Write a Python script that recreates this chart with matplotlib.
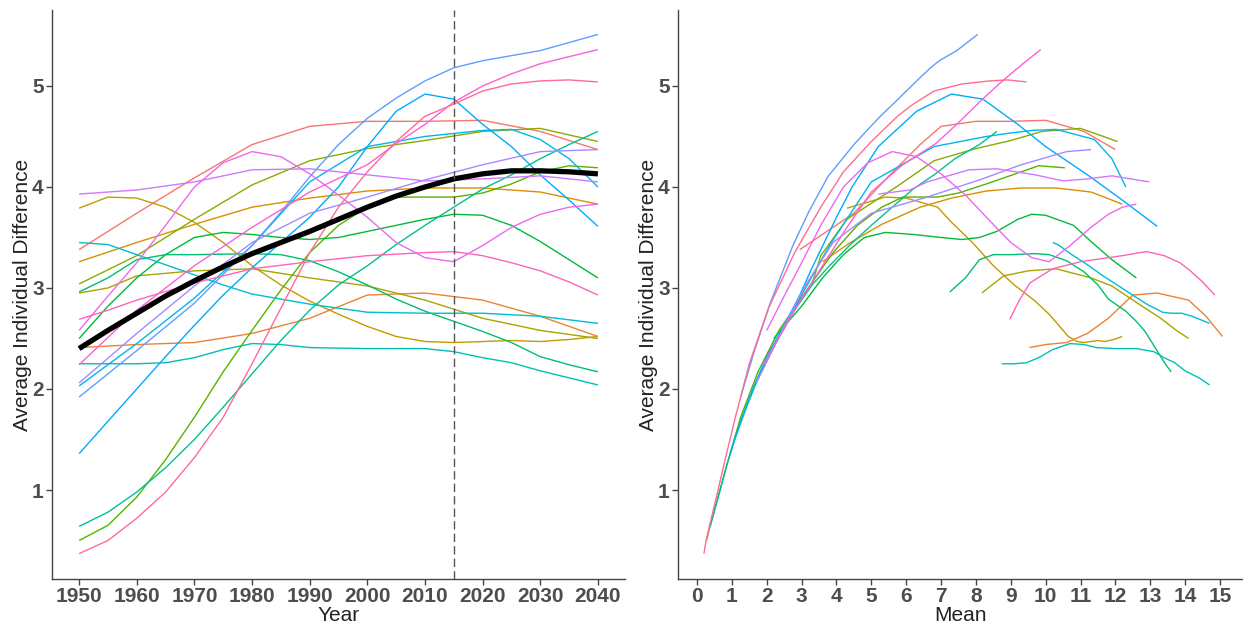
import numpy as np
import matplotlib
matplotlib.use("Agg")
import matplotlib.pyplot as plt

plt.rcParams['font.family'] = ['Liberation Sans', 'DejaVu Sans']

# ---- data ----
year10 = [1950, 1960, 1970, 1980, 1990, 2000, 2010, 2020, 2030, 2040]
year5 = [1950, 1955, 1960, 1965, 1970, 1975, 1980, 1985, 1990, 1995,
         2000, 2005, 2010, 2015, 2020, 2025, 2030, 2035, 2040]

salmon_val = [3.38, 3.74, 4.09, 4.42, 4.60, 4.65, 4.65, 4.66, 4.55, 4.37]
salmon_mean = [2.95, 4.5, 5.45, 6.4, 7.0, 8.0, 9.0, 10.0, 11.1, 12.0]

orange2_val = [2.41, 2.44, 2.46, 2.55, 2.70, 2.93, 2.95, 2.88, 2.72, 2.52]
orange2_mean = [9.54, 10.0, 10.6, 11.2, 11.8, 12.5, 13.2, 14.1, 14.6, 15.07]

orange_val = [3.26, 3.45, 3.63, 3.80, 3.89, 3.96, 3.99, 3.99, 3.95, 3.83]
orange_mean = [3.6, 4.4, 5.3, 6.4, 7.3, 8.3, 9.3, 10.3, 11.3, 12.2]

golden_val = [3.79, 3.90, 3.89, 3.80, 3.65, 3.45, 3.22, 3.03, 2.87, 2.74,
              2.62, 2.52, 2.47, 2.46, 2.47, 2.48, 2.47, 2.49, 2.52]
golden_mean = [4.3, 5.4, 6.0, 6.9, 7.3, 7.9, 8.5, 9.1, 9.7, 10.1,
               10.4, 10.65, 10.9, 11.1, 11.3, 11.5, 11.7, 11.95, 12.2]

olivegold_year = [1950, 1955, 1960, 1970, 1980, 1990, 2000, 2010, 2020, 2030, 2040]
olivegold_val = [2.95, 3.00, 3.12, 3.17, 3.19, 3.10, 3.02, 2.88, 2.70, 2.58, 2.50]
olivegold_mean = [8.17, 8.35, 8.8, 9.5, 10.3, 11.3, 11.9, 12.5, 13.3, 13.75, 14.1]

olive_val = [3.04, 3.32, 3.68, 4.02, 4.26, 4.38, 4.46, 4.55, 4.58, 4.45]
olive_mean = [3.3, 3.55, 4.3, 5.8, 6.8, 8.0, 9.0, 9.9, 11.0, 12.06]

green_low_val = [0.50, 0.65, 0.93, 1.30, 1.72, 2.17, 2.58, 2.98, 3.35, 3.62,
                 3.80, 3.90, 3.90, 3.90, 3.94, 4.03, 4.15, 4.21, 4.19]
green_low_mean = [0.27, 0.38, 0.6, 0.9, 1.25, 1.75, 2.35, 3.15, 3.9, 4.6,
                  5.3, 5.9, 6.4, 6.9, 7.5, 8.3, 9.3, 9.8, 10.55]

green_val = [2.50, 2.82, 3.10, 3.33, 3.50, 3.55, 3.53, 3.50, 3.48, 3.50,
             3.56, 3.62, 3.68, 3.73, 3.72, 3.62, 3.46, 3.28, 3.10]
green_mean = [2.2, 3.0, 3.6, 4.2, 4.8, 5.4, 6.2, 7.0, 7.6, 8.1,
              8.6, 8.9, 9.2, 9.6, 10.0, 10.8, 11.3, 11.9, 12.6]

gteal_year = [1950, 1955, 1960, 1965, 1970, 1980, 1985, 1990, 1995, 2000,
              2005, 2010, 2015, 2020, 2025, 2030, 2035, 2040]
gteal_val = [2.96, 3.10, 3.28, 3.33, 3.33, 3.34, 3.33, 3.27, 3.16, 3.03,
             2.89, 2.77, 2.67, 2.57, 2.46, 2.32, 2.24, 2.17]
gteal_mean = [7.25, 7.7, 8.1, 8.5, 9.0, 9.7, 10.1, 10.6, 11.1, 11.5,
              11.8, 12.3, 12.6, 12.85, 13.05, 13.3, 13.45, 13.6]

tealrise_val = [0.64, 0.78, 0.98, 1.22, 1.50, 1.82, 2.15, 2.48, 2.78, 3.03,
                3.22, 3.43, 3.62, 3.80, 3.98, 4.12, 4.28, 4.42, 4.55]
tealrise_mean = [0.38, 0.49, 0.65, 0.83, 1.08, 1.42, 1.8, 2.3, 2.8, 3.3,
                 3.8, 4.4, 5.0, 5.6, 6.2, 6.8, 7.4, 8.1, 8.6]

teal_year = [1950, 1960, 1965, 1970, 1975, 1980, 1985, 1990, 2000, 2010,
             2015, 2020, 2025, 2030, 2035, 2040]
teal_val = [2.25, 2.25, 2.26, 2.31, 2.39, 2.45, 2.44, 2.41, 2.40, 2.40,
            2.37, 2.31, 2.26, 2.18, 2.11, 2.04]
teal_mean = [8.74, 9.1, 9.45, 9.8, 10.2, 10.7, 11.1, 11.45, 12.0, 12.6,
             13.1, 13.4, 13.7, 14.0, 14.4, 14.7]

cyan_year = [1950, 1955, 1960, 1965, 1970, 1975, 1980, 1990, 2000, 2010, 2020, 2030, 2040]
cyan_val = [3.45, 3.43, 3.33, 3.23, 3.13, 3.03, 2.94, 2.84, 2.76, 2.75, 2.75, 2.72, 2.65]
cyan_mean = [10.2, 10.35, 10.75, 11.2, 11.6, 12.05, 12.45, 12.9, 13.35, 13.6, 13.9, 14.2, 14.7]

ltblue_year = [1950, 1960, 1970, 1980, 1990, 2000, 2010, 2015, 2020, 2025, 2030, 2035, 2040]
ltblue_val = [2.03, 2.45, 2.90, 3.42, 4.05, 4.40, 4.50, 4.53, 4.56, 4.57, 4.47, 4.28, 4.00]
ltblue_mean = [1.65, 2.25, 2.95, 3.8, 5.0, 6.8, 8.3, 8.9, 9.6, 10.3, 11.4, 11.9, 12.3]

bluepeak_val = [1.36, 1.68, 2.00, 2.32, 2.63, 2.93, 3.20, 3.45, 3.70, 4.00,
                4.40, 4.75, 4.92, 4.87, 4.62, 4.40, 4.12, 3.87, 3.61]
bluepeak_mean = [0.95, 1.25, 1.6, 2.0, 2.5, 2.95, 3.3, 3.65, 4.0, 4.45,
                 5.2, 6.3, 7.3, 8.2, 9.2, 10.0, 11.2, 12.2, 13.2]

topblue_year = [1950, 1960, 1970, 1980, 1985, 1990, 1995, 2000, 2005, 2010, 2015, 2020, 2030, 2040]
topblue_val = [1.92, 2.38, 2.85, 3.42, 3.75, 4.10, 4.42, 4.68, 4.88, 5.05, 5.18, 5.25, 5.35, 5.51]
topblue_mean = [1.25, 1.65, 2.1, 2.75, 3.2, 3.75, 4.5, 5.2, 5.8, 6.3, 6.7, 6.95, 7.45, 8.05]

lavender_val = [2.06, 2.55, 3.02, 3.45, 3.74, 3.90, 4.07, 4.22, 4.35, 4.37]
lavender_mean = [1.7, 2.4, 3.1, 3.9, 5.0, 6.6, 8.1, 9.3, 10.6, 11.3]

purple_val = [3.93, 3.97, 4.05, 4.17, 4.18, 4.12, 4.06, 4.08, 4.11, 4.05]
purple_mean = [5.2, 6.1, 6.6, 7.8, 8.6, 9.7, 10.5, 11.2, 11.9, 12.98]

magenta_val = [2.58, 2.92, 3.25, 3.62, 4.00, 4.24, 4.35, 4.30, 4.13, 3.92,
               3.70, 3.45, 3.30, 3.26, 3.42, 3.60, 3.73, 3.80, 3.83]
magenta_mean = [2.0, 2.5, 3.0, 3.55, 4.2, 4.9, 5.6, 6.3, 7.0, 7.7,
                8.3, 9.0, 9.6, 10.1, 10.7, 11.3, 11.8, 12.2, 12.6]

pink_year = [1950, 1960, 1970, 1980, 1990, 2000, 2005, 2010, 2015, 2020, 2025, 2030, 2035, 2040]
pink_val = [2.24, 2.78, 3.22, 3.60, 3.95, 4.22, 4.43, 4.62, 4.84, 5.00, 5.12, 5.22, 5.29, 5.36]
pink_mean = [1.9, 2.8, 3.6, 4.3, 5.0, 5.9, 6.85, 7.45, 8.1, 8.6, 9.0, 9.35, 9.6, 9.86]

pinkflat_year = [1950, 1955, 1960, 1970, 1980, 1990, 2000, 2010, 2015, 2020, 2025, 2030, 2035, 2040]
pinkflat_val = [2.69, 2.78, 2.88, 3.05, 3.19, 3.26, 3.32, 3.35, 3.36, 3.32, 3.25, 3.17, 3.06, 2.93]
pinkflat_mean = [8.97, 9.1, 9.25, 9.55, 10.2, 11.0, 12.2, 12.7, 12.9, 13.4, 13.85, 14.15, 14.5, 14.85]

pinkred_val = [0.37, 0.50, 0.72, 0.98, 1.32, 1.72, 2.25, 2.80, 3.35, 3.80,
               4.15, 4.45, 4.70, 4.82, 4.95, 5.02, 5.05, 5.06, 5.04]
pinkred_mean = [0.2, 0.26, 0.41, 0.59, 0.82, 1.1, 1.5, 2.05, 2.8, 3.55,
                4.2, 5.0, 5.75, 6.2, 6.8, 7.6, 8.4, 8.9, 9.45]

avg_val = [2.40, 2.58, 2.75, 2.92, 3.07, 3.21, 3.34, 3.45, 3.56, 3.68,
           3.80, 3.91, 4.00, 4.08, 4.13, 4.16, 4.16, 4.15, 4.13]

# (years, values, means) in ggplot colour order
series = [
    (year10, salmon_val, salmon_mean),
    (year10, orange2_val, orange2_mean),
    (year10, orange_val, orange_mean),
    (year5, golden_val, golden_mean),
    (olivegold_year, olivegold_val, olivegold_mean),
    (year10, olive_val, olive_mean),
    (year5, green_low_val, green_low_mean),
    (year5, green_val, green_mean),
    (gteal_year, gteal_val, gteal_mean),
    (year5, tealrise_val, tealrise_mean),
    (teal_year, teal_val, teal_mean),
    (cyan_year, cyan_val, cyan_mean),
    (ltblue_year, ltblue_val, ltblue_mean),
    (year5, bluepeak_val, bluepeak_mean),
    (topblue_year, topblue_val, topblue_mean),
    (year10, lavender_val, lavender_mean),
    (year10, purple_val, purple_mean),
    (year5, magenta_val, magenta_mean),
    (pink_year, pink_val, pink_mean),
    (pinkflat_year, pinkflat_val, pinkflat_mean),
    (year5, pinkred_val, pinkred_mean),
]


def hue_color(h, l=65.0, c=100.0):
    # ggplot2 style hcl colour
    h = np.deg2rad(h)
    u, v = c * np.cos(h), c * np.sin(h)
    Xn, Yn, Zn = 95.047, 100.0, 108.883
    Y = Yn * ((l + 16) / 116) ** 3
    den = Xn + 15 * Yn + 3 * Zn
    up = u / (13 * l) + 4 * Xn / den
    vp = v / (13 * l) + 9 * Yn / den
    X = Y * 9 * up / (4 * vp)
    Z = Y * (12 - 3 * up - 20 * vp) / (4 * vp)
    M = np.array([[3.2404542, -1.5371385, -0.4985314],
                  [-0.9692660, 1.8760108, 0.0415560],
                  [0.0556434, -0.2040259, 1.0572252]])
    rgb = np.clip(M @ (np.array([X, Y, Z]) / 100), 0, None)
    rgb = np.where(rgb <= 0.0031308, 12.92 * rgb, 1.055 * rgb ** (1 / 2.4) - 0.055)
    return tuple(np.clip(rgb, 0, 1))


n = len(series)
hues = np.linspace(15, 375, n + 1)[:-1]
colors = [hue_color(h) for h in hues]

fig = plt.figure(figsize=(12.43, 6.25), dpi=100)
ax1 = fig.add_axes([52 / 1243, 46 / 625, 573 / 1243, 569 / 625])
ax2 = fig.add_axes([678 / 1243, 46 / 625, 565 / 1243, 569 / 625])

for (yrs, vals, means), col in zip(series, colors):
    ax1.plot(yrs, vals, color=col, lw=1.0, solid_capstyle='butt')
    ax2.plot(means, vals, color=col, lw=1.0, solid_capstyle='butt')

ax1.plot(year5, avg_val, color='black', lw=3.8, solid_capstyle='butt', zorder=5)
ax1.axvline(2015, color='#555555', lw=1.0, ls=(0, (6, 3)), zorder=6)

ax1.set_xlim(1945.3, 2044.7)
ax2.set_xlim(-0.545, 15.66)
ax1.set_xticks(year10)
ax2.set_xticks(range(16))

for ax in (ax1, ax2):
    ax.set_ylim(0.119, 5.752)
    ax.set_yticks([1, 2, 3, 4, 5])
    for s in ('top', 'right'):
        ax.spines[s].set_visible(False)
    for s in ('left', 'bottom'):
        ax.spines[s].set_color('#444444')
        ax.spines[s].set_linewidth(1.0)
    ax.tick_params(length=4, width=1, color='#444444', labelsize=15,
                   labelcolor='#4D4D4D', pad=2)
    for lab in ax.get_xticklabels() + ax.get_yticklabels():
        lab.set_fontweight('bold')
    ax.set_ylabel('Average Individual Difference', fontsize=15, color='#222222', labelpad=0)

ax1.set_xlabel('Year', fontsize=15, color='#222222', labelpad=0)
ax2.set_xlabel('Mean', fontsize=15, color='#222222', labelpad=0)

fig.savefig('out.png', dpi=100)
